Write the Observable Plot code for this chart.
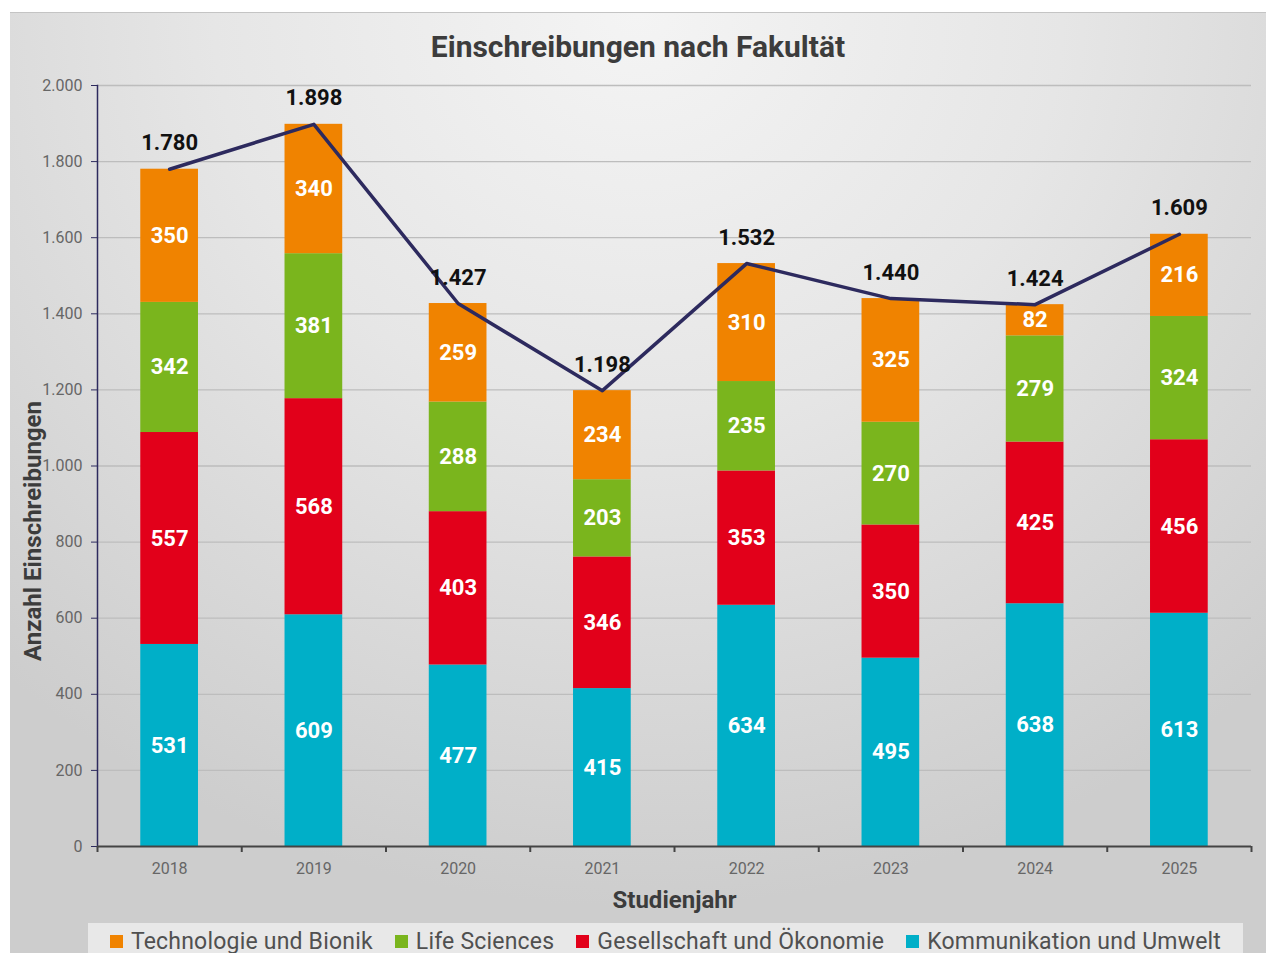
<!DOCTYPE html>
<html>
<head>
<meta charset="utf-8">
<script src="https://cdn.jsdelivr.net/npm/d3@7"></script>
<script src="https://cdn.jsdelivr.net/npm/@observablehq/plot@0.6"></script>
<style>
  html, body { margin: 0; padding: 0; background: #ffffff; }
  #chart {
    position: absolute; left: 10px; top: 12px; width: 1256px; height: 941px; overflow: hidden;
    background: radial-gradient(ellipse 75% 95% at 50% 0%, #f4f4f4 0%, #e6e6e6 45%, #cdcdcd 100%);
    border-top: 1px solid #c4c4c4;
    font-family: Roboto, "Noto Sans", sans-serif;
  }
  #title {
    position: absolute; left: 0; top: 17px; width: 100%; text-align: center;
    font-size: 30px; font-weight: bold; color: #3c3c3c; line-height: 34px;
  }
  #ylabel {
    position: absolute; left: 23px; top: 518px; transform: translate(-50%, -50%) rotate(-90deg);
    white-space: nowrap; font-size: 24px; font-weight: bold; color: #3c3c3c;
  }
  #plot { position: absolute; left: 0; top: 0; }
  #legend {
    position: absolute; left: 78px; top: 910px; width: 1155px; height: 36px;
    background: #e8e8e8; display: flex; align-items: center; justify-content: center; gap: 22px;
    font-size: 23px; color: #505050; font-weight: 400; letter-spacing: 0.2px;
  }
  .item { display: flex; align-items: center; }
  .sw { width: 13px; height: 13px; margin-right: 8px; }
</style>
</head>
<body>
<div id="chart">
  <div id="plot"></div>
  <div id="title"></div>
  <div id="ylabel"></div>
  <div id="legend"></div>
</div>
<script>
const years = [2018, 2019, 2020, 2021, 2022, 2023, 2024, 2025];
const faculties = ["Kommunikation und Umwelt", "Gesellschaft und Ökonomie", "Life Sciences", "Technologie und Bionik"];
const legendOrder = ["Technologie und Bionik", "Life Sciences", "Gesellschaft und Ökonomie", "Kommunikation und Umwelt"];
const facultyColors = ["#00afc8", "#e2001a", "#7ab51d", "#f08300"];
const kommunikation = [531, 609, 477, 415, 634, 495, 638, 613];
const gesellschaft = [557, 568, 403, 346, 353, 350, 425, 456];
const lifeSciences = [342, 381, 288, 203, 235, 270, 279, 324];
const technologie = [350, 340, 259, 234, 310, 325, 82, 216];
const totals = [1780, 1898, 1427, 1198, 1532, 1440, 1424, 1609];
const yTicks = [0, 200, 400, 600, 800, 1000, 1200, 1400, 1600, 1800, 2000];
const titleText = "Einschreibungen nach Fakultät";
const xLabel = "Studienjahr";
const yLabel = "Anzahl Einschreibungen";

const series = [kommunikation, gesellschaft, lifeSciences, technologie];
const data = [];
years.forEach((yr, i) => {
  faculties.forEach((f, k) => data.push({year: yr, faculty: f, value: series[k][i]}));
});
const totalData = years.map((yr, i) => ({year: yr, total: totals[i]}));
const boundaries = years.map(y => y - 0.5).concat([years[years.length - 1] + 0.5]);
const de = d => d3.format(",")(d).replace(/,/g, ".");
const navy = "#2d2a5e";
const half = 0.2;

const plot = Plot.plot({
  width: 1256, height: 910,
  marginTop: 72, marginLeft: 87, marginRight: 15, marginBottom: 77,
  style: {fontFamily: "Roboto, 'Noto Sans', sans-serif", background: "transparent", overflow: "visible"},
  x: {type: "linear", domain: [boundaries[0], boundaries[boundaries.length - 1]]},
  y: {domain: [0, 2000]},
  color: {domain: faculties, range: facultyColors},
  marks: [
    Plot.gridY(yTicks.filter(t => t > 0), {stroke: "#bdbdbd", strokeOpacity: 1, strokeWidth: 1.3}),
    Plot.axisY({ticks: yTicks, tickFormat: de, tickSize: 6, tickPadding: 9, fontSize: 16, stroke: navy, fill: "#666", label: null}),
    Plot.frame({anchor: "left", stroke: navy, strokeWidth: 1.5}),
    Plot.rectY(data, {x1: d => d.year - half, x2: d => d.year + half, y: "value", fill: "faculty"}),
    Plot.text(data, Plot.stackY({x: "year", y: "value", z: "faculty", text: d => de(d.value), fill: "white", fontWeight: "bold", fontSize: 22})),
    Plot.ruleY([0], {stroke: "#444", strokeWidth: 2}),
    Plot.axisX({ticks: boundaries, tickFormat: () => "", tickSize: 6, stroke: "#444", strokeWidth: 2, label: null}),
    Plot.axisX({ticks: years, tickFormat: d => String(d), tickSize: 0, tickPadding: 16, fontSize: 16, fill: "#666", label: null}),
    Plot.line(totalData, {x: "year", y: "total", stroke: navy, strokeWidth: 3.5}),
    Plot.text(totalData, {x: "year", y: "total", text: d => de(d.total), dy: -26, fill: "#111", fontWeight: "bold", fontSize: 22}),
    Plot.text([xLabel], {frameAnchor: "bottom", dy: 61, fontSize: 24, fontWeight: "bold", fill: "#3c3c3c"})
  ]
});
document.getElementById("plot").appendChild(plot);
document.getElementById("title").textContent = titleText;
document.getElementById("ylabel").textContent = yLabel;

const legend = document.getElementById("legend");
legendOrder.forEach(f => {
  const item = document.createElement("div");
  item.className = "item";
  const sw = document.createElement("div");
  sw.className = "sw";
  sw.style.background = facultyColors[faculties.indexOf(f)];
  const label = document.createElement("span");
  label.textContent = f;
  item.appendChild(sw);
  item.appendChild(label);
  legend.appendChild(item);
});
</script>
</body>
</html>
